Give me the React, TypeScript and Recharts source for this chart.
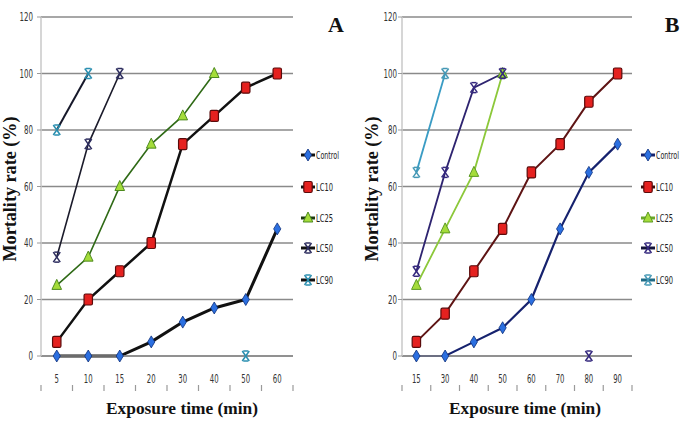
import { LineChart, Line, XAxis, YAxis, CartesianGrid, Legend } from 'recharts'

const TIMES_A = ['5', '10', '15', '20', '30', '40', '50', '60']
const TIMES_B = ['15', '30', '40', '50', '60', '70', '80', '90']
const Y_TICKS = [0, 20, 40, 60, 80, 100, 120]

// panel A
const CONTROL_A = [0, 0, 0, 5, 12, 17, 20, 45]
const LC10_A = [5, 20, 30, 40, 75, 85, 95, 100]
const LC25_A = [25, 35, 60, 75, 85, 100, null, null]
const LC50_A = [35, 75, 100, null, null, null, null, null]
const LC90_A = [80, 100, null, null, null, null, 0, null]

// panel B
const CONTROL_B = [0, 0, 5, 10, 20, 45, 65, 75]
const LC10_B = [5, 15, 30, 45, 65, 75, 90, 100]
const LC25_B = [25, 45, 65, 100, null, null, null, null]
const LC50_B = [30, 65, 95, 100, null, null, 0, null]
const LC90_B = [65, 100, null, null, null, null, null, null]

const SERIF = "'Liberation Serif', 'Times New Roman', serif"
const NARROW = "'Liberation Sans Narrow', 'DejaVu Sans', sans-serif"

type MarkerType = 'diamond' | 'square' | 'triangle' | 'x'

interface Series {
  key: string
  values: (number | null)[]
  line: string
  legendLine: string
  width: number
  marker: MarkerType
  fill: string
  edge: string
}

const SERIES_A: Series[] = [
  { key: 'Control', values: CONTROL_A, line: '#111111', legendLine: '#111111', width: 3, marker: 'diamond', fill: '#2b6fe0', edge: '#0d2f7a' },
  { key: 'LC10', values: LC10_A, line: '#111111', legendLine: '#111111', width: 2.5, marker: 'square', fill: '#e5211f', edge: '#5a0b0b' },
  { key: 'LC25', values: LC25_A, line: '#2f6a16', legendLine: '#1d3a10', width: 1.6, marker: 'triangle', fill: '#a4dc3a', edge: '#4d8a1e' },
  { key: 'LC50', values: LC50_A, line: '#1b1b2b', legendLine: '#111111', width: 1.6, marker: 'x', fill: 'none', edge: '#2c2c5e' },
  { key: 'LC90', values: LC90_A, line: '#16182a', legendLine: '#111111', width: 2, marker: 'x', fill: 'none', edge: '#2a8fb0' },
]

const SERIES_B: Series[] = [
  { key: 'Control', values: CONTROL_B, line: '#16226e', legendLine: '#16226e', width: 2.2, marker: 'diamond', fill: '#2b6fe0', edge: '#0d2f7a' },
  { key: 'LC10', values: LC10_B, line: '#5e1414', legendLine: '#3a0c0c', width: 2, marker: 'square', fill: '#e5211f', edge: '#5a0b0b' },
  { key: 'LC25', values: LC25_B, line: '#8cc83a', legendLine: '#6aa82a', width: 1.8, marker: 'triangle', fill: '#a4dc3a', edge: '#5c9a22' },
  { key: 'LC50', values: LC50_B, line: '#2e2470', legendLine: '#14143a', width: 1.8, marker: 'x', fill: 'none', edge: '#35287e' },
  { key: 'LC90', values: LC90_B, line: '#3a9cc4', legendLine: '#1f6a85', width: 1.8, marker: 'x', fill: 'none', edge: '#4598b5' },
]

function Marker({ type, cx, cy, fill, edge }: { type: MarkerType; cx: number; cy: number; fill: string; edge: string }) {
  if (type === 'diamond') {
    return (
      <polygon
        points={`${cx},${cy - 6} ${cx + 3.6},${cy} ${cx},${cy + 6} ${cx - 3.6},${cy}`}
        fill={fill}
        stroke={edge}
        strokeWidth={0.8}
      />
    )
  }
  if (type === 'square') {
    return <rect x={cx - 4.2} y={cy - 5.5} width={8.4} height={11} rx={1.5} fill={fill} stroke={edge} strokeWidth={1.2} />
  }
  if (type === 'triangle') {
    return (
      <polygon
        points={`${cx},${cy - 6} ${cx + 4.8},${cy + 4} ${cx - 4.8},${cy + 4}`}
        fill={fill}
        stroke={edge}
        strokeWidth={1}
      />
    )
  }
  return (
    <g stroke={edge} strokeWidth={1.5} fill="none">
      <line x1={cx - 3.5} y1={cy - 5} x2={cx + 3.5} y2={cy + 5} />
      <line x1={cx + 3.5} y1={cy - 5} x2={cx - 3.5} y2={cy + 5} />
      <line x1={cx - 2.5} y1={cy - 5} x2={cx + 2.5} y2={cy - 5} />
      <line x1={cx - 2.5} y1={cy + 5} x2={cx + 2.5} y2={cy + 5} />
    </g>
  )
}

function LegendBox({ items, dx }: { items: Series[]; dx: number }) {
  const rows = [15, 47, 78, 108, 140]
  return (
    <svg width={46} height={160} style={{ display: 'block', overflow: 'visible' }}>
      {items.map((s, i) => (
        <g key={s.key}>
          <line x1={dx} y1={rows[i]} x2={dx + 14} y2={rows[i]} stroke={s.legendLine} strokeWidth={3} />
          <Marker type={s.marker} cx={dx + 7} cy={rows[i]} fill={s.fill} edge={s.edge} />
          <text
            x={dx + 15}
            y={rows[i] + 4}
            fontSize={10}
            fontFamily={NARROW}
            fill="#222"
            textLength={s.key === 'Control' ? 23 : 17}
            lengthAdjust="spacingAndGlyphs"
          >
            {s.key}
          </text>
        </g>
      ))}
    </svg>
  )
}

function YTick(props: any) {
  const { x, y, payload } = props
  const s = String(payload.value)
  return (
    <text x={x} y={y + 4} textAnchor="end" fontSize={12} fontFamily={NARROW} fill="#333" textLength={s.length * 4.5} lengthAdjust="spacingAndGlyphs">
      {s}
    </text>
  )
}

function makeXTick(labels: string[]) {
  return (props: any) => {
    const { x, y, payload } = props
    const s = labels[payload.value] ?? ''
    return (
      <text x={x} y={y + 21} textAnchor="middle" fontSize={13} fontFamily={NARROW} fill="#333" textLength={s.length * 4.4} lengthAdjust="spacingAndGlyphs">
        {s}
      </text>
    )
  }
}

interface PanelProps {
  series: Series[]
  times: string[]
  width: number
  yAxisWidth: number
  marginRight: number
  yTitleX: number
  xTitleX: number
  letter: string
  letterX: number
  legendLeft: number
  legendDx: number
  tickMargin: number
}

function Panel(p: PanelProps) {
  const data = p.times.map((t, i) => {
    const row: Record<string, any> = { i, t }
    p.series.forEach(s => {
      row[s.key] = s.values[i]
    })
    return row
  })
  const centers = p.times.map((_, i) => i)
  const bounds = [...centers.map(i => i - 0.5), p.times.length - 0.5]

  return (
    <LineChart width={p.width} height={433} data={data} margin={{ top: 17, right: p.marginRight, bottom: 47, left: 0 }}>
      <CartesianGrid vertical={false} stroke="#8a8a8a" strokeWidth={1.6} />
      <XAxis
        xAxisId="b"
        dataKey="i"
        type="number"
        domain={[-0.5, p.times.length - 0.5]}
        ticks={bounds}
        allowDataOverflow
        height={1}
        tick={() => <g />}
        tickSize={6}
        tickLine={{ stroke: '#9a9a9a', strokeWidth: 1.2 }}
        axisLine={false}
      />
      <XAxis
        dataKey="i"
        type="number"
        domain={[-0.5, p.times.length - 0.5]}
        ticks={centers}
        allowDataOverflow
        height={29}
        tickLine={false}
        tickSize={0}
        tickMargin={6}
        tick={makeXTick(p.times)}
        axisLine={{ stroke: '#8a8a8a', strokeWidth: 1.6 }}
        label={() => (
          <text x={p.xTitleX} y={414} textAnchor="middle" fontSize={17} fontWeight="bold" fontFamily={SERIF} fill="#111" textLength={152} lengthAdjust="spacingAndGlyphs">
            Exposure time (min)
          </text>
        )}
      />
      <YAxis
        domain={[0, 120]}
        ticks={Y_TICKS}
        width={p.yAxisWidth}
        axisLine={{ stroke: '#c8c8c8', strokeWidth: 1.5 }}
        tickLine={{ stroke: '#9a9a9a' }}
        tickSize={4}
        tickMargin={p.tickMargin}
        tick={<YTick />}
        label={() => (
          <g>
            <text
              transform={`translate(${p.yTitleX},189) rotate(-90)`}
              textAnchor="middle"
              fontSize={18}
              fontWeight="bold"
              fontFamily={SERIF}
              fill="#111"
              textLength={145}
              lengthAdjust="spacingAndGlyphs"
            >
              Mortality rate (%)
            </text>
            <text x={p.letterX} y={32} textAnchor="middle" fontSize={22} fontWeight="bold" fontFamily={SERIF} fill="#111">
              {p.letter}
            </text>
          </g>
        )}
      />
      {p.series.map((s, k) => (
        <Line
          key={s.key}
          xAxisId={k === 0 ? 'b' : 0}
          type="linear"
          dataKey={s.key}
          stroke={s.line}
          strokeWidth={s.width}
          connectNulls={false}
          isAnimationActive={false}
          dot={(d: any) =>
            d.value == null || d.cy == null ? (
              <g key={`${s.key}-${d.index}`} />
            ) : (
              <Marker key={`${s.key}-${d.index}`} type={s.marker} cx={d.cx} cy={d.cy} fill={s.fill} edge={s.edge} />
            )
          }
          activeDot={false}
        />
      ))}
      <Legend
        layout="horizontal"
        align="center"
        verticalAlign="middle"
        content={() => <LegendBox items={p.series} dx={p.legendDx} />}
        wrapperStyle={{ position: 'absolute', left: p.legendLeft, top: 140, width: 46, height: 160 }}
      />
    </LineChart>
  )
}

export default function App() {
  return (
    <div style={{ position: 'absolute', left: 0, top: 0, width: 685, height: 433, background: '#fff' }}>
      <div style={{ position: 'absolute', left: 0, top: 0 }}>
        <Panel
          series={SERIES_A}
          times={TIMES_A}
          width={345}
          yAxisWidth={41}
          marginRight={52}
          yTitleX={16}
          xTitleX={182}
          letter="A"
          letterX={336}
          legendLeft={299}
          legendDx={2}
          tickMargin={4}
        />
      </div>
      <div style={{ position: 'absolute', left: 345, top: 0 }}>
        <Panel
          series={SERIES_B}
          times={TIMES_B}
          width={340}
          yAxisWidth={57}
          marginRight={53}
          yTitleX={33}
          xTitleX={180}
          letter="B"
          letterX={327}
          legendLeft={292}
          legendDx={4}
          tickMargin={1}
        />
      </div>
    </div>
  )
}
